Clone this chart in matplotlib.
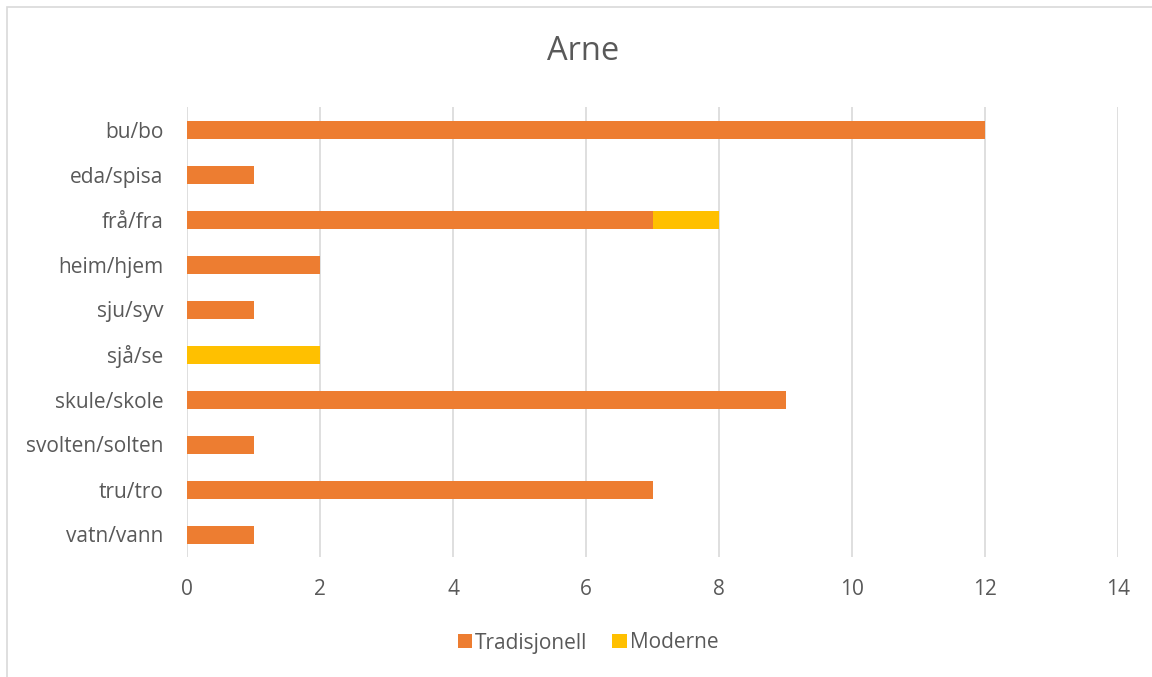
import matplotlib
matplotlib.use("Agg")
import matplotlib.pyplot as plt
from matplotlib.patches import Rectangle

categories = ["bu/bo", "eda/spisa", "frå/fra", "heim/hjem", "sju/syv", "sjå/se",
              "skule/skole", "svolten/solten", "tru/tro", "vatn/vann"]
tradisjonell = [12, 1, 7, 2, 1, 0, 9, 1, 7, 1]
moderne = [0, 0, 1, 0, 0, 2, 0, 0, 0, 0]
xticks = [0, 2, 4, 6, 8, 10, 12, 14]

ORANGE = "#ED7D31"
YELLOW = "#FFC000"
TXT = "#595959"
GRID = "#D9D9D9"
plt.rcParams['font.family'] = ['Open Sans', 'DejaVu Sans']

W, H = 1152, 677
fig = plt.figure(figsize=(W / 100, H / 100), dpi=100)
fig.patches.append(Rectangle((7 / W, -0.1), 1.2, 1 - 7 / H + 0.1, transform=fig.transFigure,
                             fill=False, edgecolor=GRID, linewidth=1.2))

ax = fig.add_axes([187 / W, 1 - 557 / H, (1118 - 187) / W, (557 - 107) / H])
y = list(range(len(categories)))
ax.barh(y, tradisjonell, height=0.4, color=ORANGE, label="Tradisjonell", zorder=3)
ax.barh(y, moderne, left=tradisjonell, height=0.4, color=YELLOW, label="Moderne", zorder=3)
ax.set_yticks(y)
ax.set_yticklabels(categories)
ax.set_ylim(len(categories) - 0.5, -0.5)
ax.set_xlim(0, 14)
ax.set_xticks(xticks)
ax.xaxis.grid(True, color=GRID, linewidth=1.2, zorder=0)
for s in ax.spines.values():
    s.set_visible(False)
ax.tick_params(length=0, labelsize=15, colors=TXT)
ax.tick_params(axis='y', pad=17)
ax.tick_params(axis='x', pad=16)
for lbl in ax.get_xticklabels() + ax.get_yticklabels():
    lbl.set_color(TXT)

fig.text(583 / W, 1 - 52 / H, "Arne", ha="center", va="center", fontsize=23.5, color=TXT)

leg = fig.legend(loc="center", bbox_to_anchor=(588 / W, 1 - 643 / H), ncol=2, frameon=False,
                 fontsize=15, handlelength=0.68, handleheight=0.68, handletextpad=0.15,
                 columnspacing=1.2)
for t in leg.get_texts():
    t.set_color(TXT)

fig.savefig("out.png", dpi=100)
